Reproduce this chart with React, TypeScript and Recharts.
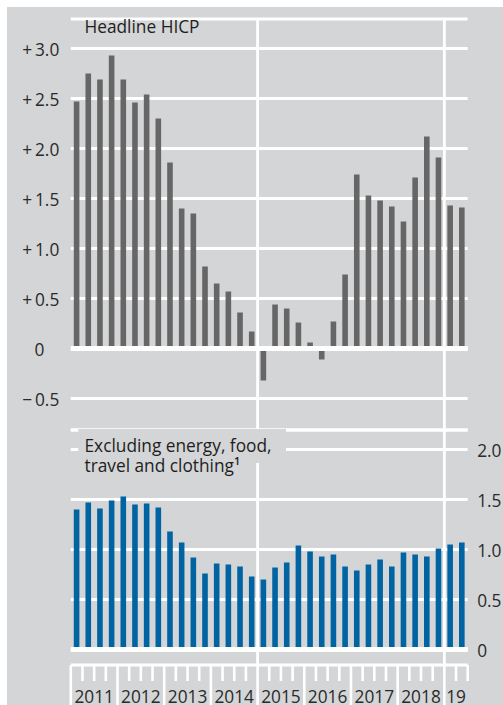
import React from 'react';
import { BarChart, Bar, XAxis, YAxis, CartesianGrid, ReferenceLine } from 'recharts';

const quarters = [
  '2011 Q1', '2011 Q2', '2011 Q3', '2011 Q4',
  '2012 Q1', '2012 Q2', '2012 Q3', '2012 Q4',
  '2013 Q1', '2013 Q2', '2013 Q3', '2013 Q4',
  '2014 Q1', '2014 Q2', '2014 Q3', '2014 Q4',
  '2015 Q1', '2015 Q2', '2015 Q3', '2015 Q4',
  '2016 Q1', '2016 Q2', '2016 Q3', '2016 Q4',
  '2017 Q1', '2017 Q2', '2017 Q3', '2017 Q4',
  '2018 Q1', '2018 Q2', '2018 Q3', '2018 Q4',
  '2019 Q1', '2019 Q2',
];

const headlineHICP = [
  2.47, 2.75, 2.69, 2.93,
  2.69, 2.46, 2.54, 2.30,
  1.86, 1.40, 1.35, 0.82,
  0.65, 0.57, 0.36, 0.17,
  -0.32, 0.44, 0.40, 0.26,
  0.06, -0.11, 0.27, 0.74,
  1.74, 1.53, 1.48, 1.42,
  1.27, 1.71, 2.12, 1.91,
  1.43, 1.41,
];

const coreHICP = [
  1.40, 1.47, 1.41, 1.49,
  1.53, 1.45, 1.46, 1.42,
  1.18, 1.07, 0.92, 0.76,
  0.86, 0.85, 0.83, 0.73,
  0.70, 0.82, 0.87, 1.04,
  0.98, 0.93, 0.95, 0.83,
  0.79, 0.85, 0.90, 0.83,
  0.97, 0.95, 0.93, 1.01,
  1.05, 1.07,
];

const yearLabels = ['2011', '2012', '2013', '2014', '2015', '2016', '2017', '2018', '19'];
const breakQuarters = ['2015 Q1', '2019 Q1'];
const topTicks = [-0.5, 0, 0.5, 1, 1.5, 2, 2.5, 3];
const bottomTicks = [0, 0.5, 1, 1.5, 2];
const topDomain = [-0.815, 3.295];
const bottomDomain = [-0.155, 2.195];

const BG = '#d4d5d7';
const GRAY_BAR = '#666666';
const BLUE_BAR = '#0063a2';
const TEXT = '#2a2a2a';
const FONT = "'Open Sans', sans-serif";
const FS = 17.3;

const rows = quarters.map((q, i) => ({
  q,
  pos: i + 0.5,
  headline: headlineHICP[i],
  core: coreHICP[i],
}));

const boundaryTicks = quarters.map((_, i) => i).concat(quarters.length);

type Group = { year: string; start: number; count: number };
const yearGroups: Group[] = [];
quarters.forEach((q, i) => {
  const y = q.slice(0, 4);
  const g = yearGroups[yearGroups.length - 1];
  if (g && g.year === y) g.count += 1;
  else yearGroups.push({ year: y, start: i, count: 1 });
});
const labelAt = new Map<number, string>(
  yearGroups.map((g, k) => [g.start + g.count / 2, yearLabels[k]] as [number, string])
);
const yearStarts = new Set<number>(yearGroups.map((g) => g.start));
const breakPositions = breakQuarters.map((q) => quarters.indexOf(q));

const fmtTop = (v: number) =>
  v === 0 ? '0' : (v > 0 ? '+\u2009' : '\u2212\u2009') + Math.abs(v).toFixed(1);
const fmtBottom = (v: number) => (v === 0 ? '0' : v.toFixed(1));

const TopTick = (props: any) => {
  const { x, y, payload } = props;
  const v = payload.value as number;
  return (
    <text
      x={v === 0 ? x - 26.5 : x - 11.5}
      y={y}
      dy={7.3}
      textAnchor="end"
      fill={TEXT}
      fontFamily={FONT}
      fontSize={FS}
    >
      {fmtTop(v)}
    </text>
  );
};

const RightTick = (props: any) => {
  const { x, y, payload } = props;
  const v = payload.value as number;
  return (
    <text x={x + 9.5} y={y} dy={7.3} textAnchor="start" fill={TEXT} fontFamily={FONT} fontSize={FS}>
      {fmtBottom(v)}
    </text>
  );
};

const BottomTick = (props: any) => {
  const { x, y, payload } = props;
  const v = payload.value as number;
  const long = yearStarts.has(v);
  const label = labelAt.get(v);
  return (
    <g>
      <line x1={x} x2={x} y1={y} y2={long ? y + 42 : y + 16} stroke="#ffffff" strokeWidth={2.6} />
      {label ? (
        <text x={x} y={y + 38} textAnchor="middle" fill={TEXT} fontFamily={FONT} fontSize={FS}>
          {label}
        </text>
      ) : null}
    </g>
  );
};

export default function App() {
  return (
    <div style={{ position: 'absolute', left: 0, top: 0, width: 503, height: 705, overflow: 'hidden', background: '#ffffff' }}>
      <div style={{ position: 'absolute', left: 7, top: 7, width: 496, height: 698, background: BG }} />
      <div style={{ position: 'absolute', left: 0, top: 0 }}>
        <BarChart width={503} height={705} data={rows} margin={{ top: 19, right: 35.3, bottom: 275, left: 8.8 }}>
          <CartesianGrid horizontal vertical={false} stroke="#ffffff" strokeWidth={2.8} />
          <XAxis type="number" dataKey="pos" domain={[0, quarters.length]} ticks={boundaryTicks} hide />
          <YAxis
            type="number"
            domain={topDomain}
            ticks={topTicks}
            width={62}
            tickSize={0}
            tickMargin={0}
            axisLine={false}
            tickLine={false}
            interval={0}
            tick={<TopTick />}
          />
          <Bar dataKey="headline" fill={GRAY_BAR} barSize={5.6} isAnimationActive={false} />
          <ReferenceLine y={0} stroke="#ffffff" strokeWidth={5} />
          {breakPositions.map((p) => (
            <ReferenceLine key={p} x={p} stroke="#ffffff" strokeWidth={2.8} />
          ))}
        </BarChart>
      </div>
      <div style={{ position: 'absolute', left: 0, top: 0 }}>
        <BarChart width={503} height={705} data={rows} margin={{ top: 430, right: 0, bottom: 0, left: 70.8 }}>
          <CartesianGrid horizontal vertical={false} stroke="#ffffff" strokeWidth={2.8} />
          <XAxis
            type="number"
            dataKey="pos"
            domain={[0, quarters.length]}
            ticks={boundaryTicks}
            interval={0}
            height={40}
            tickSize={0}
            tickMargin={0}
            axisLine={false}
            tickLine={false}
            tick={<BottomTick />}
          />
          <YAxis
            type="number"
            orientation="right"
            domain={bottomDomain}
            ticks={bottomTicks}
            width={35.3}
            tickSize={0}
            tickMargin={0}
            axisLine={false}
            tickLine={false}
            interval={0}
            tick={<RightTick />}
          />
          <Bar dataKey="core" fill={BLUE_BAR} barSize={5.6} isAnimationActive={false} />
          <ReferenceLine y={0} stroke="#ffffff" strokeWidth={5} />
          {breakPositions.map((p) => (
            <ReferenceLine key={p} x={p} stroke="#ffffff" strokeWidth={2.8} />
          ))}
        </BarChart>
      </div>
      <svg width={503} height={705} style={{ position: 'absolute', left: 0, top: 0, pointerEvents: 'none' }}>
        <text x={84.5} y={32.5} fill="#1e1e1e" fontFamily={FONT} fontSize={FS}>
          Headline HICP
        </text>
        <rect x={78.3} y={429} width={207.7} height={34} fill={BG} />
        <text x={84.5} y={452.3} fill="#1e1e1e" fontFamily={FONT} fontSize={FS}>
          Excluding energy, food,
        </text>
        <text x={84.5} y={471.7} fill="#1e1e1e" fontFamily={FONT} fontSize={FS}>
          travel and clothing
          <tspan fontSize={11} dy={-7} fontWeight={600}>1</tspan>
        </text>
      </svg>
    </div>
  );
}
